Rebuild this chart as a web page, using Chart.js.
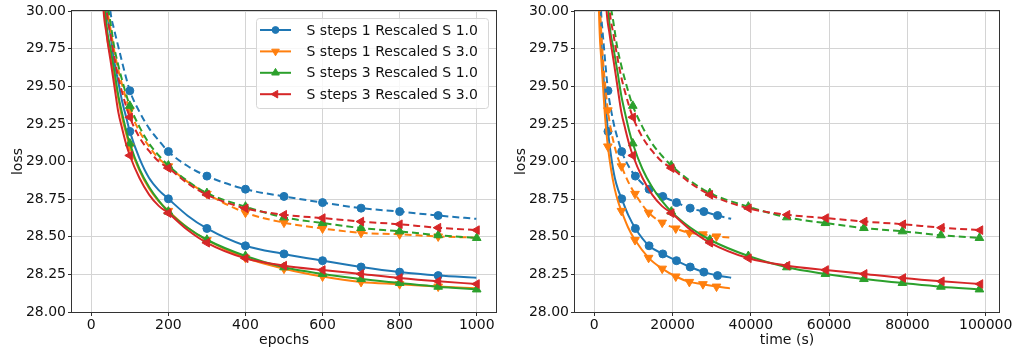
<!DOCTYPE html>
<html><head><meta charset="utf-8">
<script src="https://cdn.jsdelivr.net/npm/chart.js@4.4.1/dist/chart.umd.min.js"></script>
<style>
html,body{margin:0;padding:0;background:#fff;}
#wrap{position:relative;width:1019px;height:352px;overflow:hidden;background:#fff;}
.pane{position:absolute;top:0;width:516px;height:352px;}
</style></head><body>
<div id="wrap">
<div class="pane" style="left:0"><canvas id="c1" width="516" height="352"></canvas></div>
<div class="pane" style="left:503px"><canvas id="c2" width="516" height="352"></canvas></div>
</div>
<script>
// ---- data ----
const seriesNames = ["S steps 1 Rescaled S 1.0", "S steps 1 Rescaled S 3.0", "S steps 3 Rescaled S 1.0", "S steps 3 Rescaled S 3.0"];
const seriesColors = ["#1f77b4", "#ff7f0e", "#2ca02c", "#d62728"];
const epochsS1 = [10,20,30,40,50,60,70,80,90,100,125,150,175,200,250,300,400,500,600,700,800,900,999];
const epochsS3 = [10,20,30,40,50,60,70,80,90,100,125,150,175,200,250,300,400,500,600,700,800,900,1000];
const secondsPerEpoch = [35.0, 34.7, 98.4, 98.6];

const trainS1R1 = [33.0,31.6,30.55,30.03,29.84,29.66,29.53,29.40,29.30,29.20,29.02,28.89,28.81,28.752,28.64,28.555,28.44,28.386,28.341,28.299,28.265,28.242,28.228];
const valS1R1   = [33.0,31.5,30.7,30.25,29.99,29.87,29.765,29.66,29.56,29.47,29.33,29.22,29.14,29.066,28.97,28.903,28.816,28.768,28.727,28.69,28.667,28.641,28.619];
const trainS1R3 = [32.4,31.1,30.2,29.85,29.70,29.56,29.42,29.29,29.19,29.10,28.94,28.82,28.735,28.672,28.56,28.478,28.36,28.288,28.236,28.20,28.185,28.169,28.157];
const valS1R3   = [32.6,31.2,30.4,30.05,29.88,29.73,29.61,29.51,29.42,29.34,29.20,29.10,29.02,28.968,28.865,28.785,28.66,28.594,28.555,28.526,28.516,28.502,28.494];
const trainS3R1 = [32.5,31.2,30.3,29.9,29.75,29.60,29.44,29.32,29.21,29.12,28.95,28.83,28.74,28.667,28.56,28.48,28.372,28.297,28.253,28.219,28.193,28.168,28.15];
const valS3R1   = [32.5,31.3,30.5,30.1,29.92,29.754,29.64,29.54,29.45,29.37,29.23,29.12,29.04,28.973,28.87,28.79,28.70,28.629,28.591,28.558,28.536,28.51,28.492];
const trainS3R3 = [32.0,30.9,30.08,29.84,29.67,29.50,29.33,29.22,29.12,29.04,28.89,28.78,28.705,28.657,28.545,28.46,28.357,28.308,28.279,28.253,28.226,28.204,28.186];
const valS3R3   = [32.4,31.1,30.35,30.0,29.84,29.69,29.56,29.46,29.37,29.294,29.16,29.07,29.0,28.956,28.855,28.779,28.689,28.646,28.624,28.601,28.583,28.56,28.544];

const yTicks = [28.00,28.25,28.50,28.75,29.00,29.25,29.50,29.75,30.00];
const epochTicks = [0,200,400,600,800,1000];
const timeTicks = [0,20000,40000,60000,80000,100000];

// ---- styling ----
const FONT = "'DejaVu Sans', 'Liberation Sans', sans-serif";
const TXT = '#111';
const markerStyles = [
  {style:'circle', rot:0, r:4},
  {style:'triangle', rot:180, r:5},
  {style:'triangle', rot:0, r:5},
  {style:'triangle', rot:-90, r:5}
];
const runs = [
  {epochs: epochsS1, train: trainS1R1, val: valS1R1},
  {epochs: epochsS1, train: trainS1R3, val: valS1R3},
  {epochs: epochsS3, train: trainS3R1, val: valS3R1},
  {epochs: epochsS3, train: trainS3R3, val: valS3R3}
];

function buildDatasets(useTime){
  const ds = [];
  runs.forEach((run, i) => {
    const m = markerStyles[i];
    ['train','val'].forEach(kind => {
      const pts = run.epochs.map((e, k) => ({x: useTime ? e * secondsPerEpoch[i] : e, y: run[kind][k], e: e}));
      ds.push({
        label: seriesNames[i] + (kind === 'val' ? ' (val)' : ''),
        data: pts,
        borderColor: seriesColors[i],
        backgroundColor: seriesColors[i],
        pointBackgroundColor: seriesColors[i],
        pointBorderColor: seriesColors[i],
        borderWidth: 2,
        borderDash: kind === 'val' ? [7,4] : [],
        pointStyle: m.style,
        rotation: m.rot,
        pointRadius: c => (c.raw && c.raw.e % 100 === 0) ? m.r : 0,
        pointHoverRadius: 0,
        pointBorderWidth: 1,
        cubicInterpolationMode: 'monotone',
        fill: false
      });
    });
  });
  return ds.reverse();
}

const framePlugin = {
  id: 'frame',
  afterDatasetsDraw(chart){
    const a = chart.chartArea, ctx = chart.ctx;
    ctx.save();
    ctx.strokeStyle = '#333';
    ctx.lineWidth = 1;
    ctx.strokeRect(Math.round(a.left) - 0.5, Math.round(a.top) - 0.5, Math.round(a.right - a.left) + 1, Math.round(a.bottom - a.top) + 1);
    ctx.restore();
  }
};

const legendPlugin = {
  id: 'mplLegend',
  afterDraw(chart){
    const opts = chart.options.plugins.mplLegend;
    if (!opts || !opts.show) return;
    const ctx = chart.ctx, a = chart.chartArea;
    const w = 232, h = 90;
    const x0 = a.right - 8 - w, y0 = a.top + 7;
    ctx.save();
    ctx.beginPath();
    ctx.roundRect(x0 + 0.5, y0 + 0.5, w, h, 3);
    ctx.fillStyle = 'rgba(255,255,255,0.8)';
    ctx.fill();
    ctx.strokeStyle = '#d6d6d6';
    ctx.lineWidth = 1;
    ctx.stroke();
    ctx.font = "14px " + FONT;
    ctx.textBaseline = 'middle';
    ctx.textAlign = 'left';
    for (let i = 0; i < seriesNames.length; i++){
      const y = y0 + 12 + i * 21.4;
      ctx.strokeStyle = seriesColors[i];
      ctx.fillStyle = seriesColors[i];
      ctx.lineWidth = 2;
      ctx.setLineDash([]);
      ctx.beginPath();
      ctx.moveTo(x0 + 4, y);
      ctx.lineTo(x0 + 35, y);
      ctx.stroke();
      ctx.lineWidth = 1;
      Chart.helpers.drawPoint(ctx, {pointStyle: markerStyles[i].style, rotation: markerStyles[i].rot, radius: markerStyles[i].r - 0.6, borderWidth: 1}, x0 + 19.5, y);
      ctx.fillStyle = TXT;
      ctx.fillText(seriesNames[i], x0 + 50.5, y + 1);
    }
    ctx.restore();
  }
};

function makeChart(id, useTime){
  const xTicks = useTime ? timeTicks : epochTicks;
  return new Chart(document.getElementById(id), {
    type: 'line',
    data: {datasets: buildDatasets(useTime)},
    plugins: [framePlugin, legendPlugin],
    options: {
      responsive: false,
      animation: false,
      events: [],
      layout: {padding: {left: 0, top: 11, right: 20, bottom: 0}},
      plugins: {legend: {display: false}, tooltip: {enabled: false}, mplLegend: {show: !useTime}},
      scales: {
        x: {
          type: 'linear',
          min: useTime ? -4925 : -50,
          max: useTime ? 103400 : 1050,
          afterBuildTicks: s => { s.ticks = xTicks.map(v => ({value: v})); },
          afterFit: s => { s.height = 40; },
          ticks: {callback: v => String(v), font: {family: FONT, size: 14}, color: TXT, padding: 1, maxRotation: 0, autoSkip: false},
          grid: {color: '#d4d4d4', lineWidth: 1, tickColor: '#333', tickLength: 4, drawTicks: true},
          border: {display: false},
          title: {display: true, text: useTime ? 'time (s)' : 'epochs', font: {family: FONT, size: 14}, color: TXT, padding: {top: 0, bottom: 3}}
        },
        y: {
          type: 'linear',
          min: 28, max: 30,
          afterBuildTicks: s => { s.ticks = yTicks.map(v => ({value: v})); },
          afterFit: s => { s.width = 72; },
          ticks: {callback: v => Number(v).toFixed(2), font: {family: FONT, size: 14}, color: TXT, padding: 2, autoSkip: false},
          grid: {color: '#d4d4d4', lineWidth: 1, tickColor: '#333', tickLength: 4, drawTicks: true},
          border: {display: false},
          title: {display: true, text: 'loss', font: {family: FONT, size: 14}, color: TXT, padding: {top: 10, bottom: 0}}
        }
      }
    }
  });
}
makeChart('c1', false);
makeChart('c2', true);
</script>
</body></html>
